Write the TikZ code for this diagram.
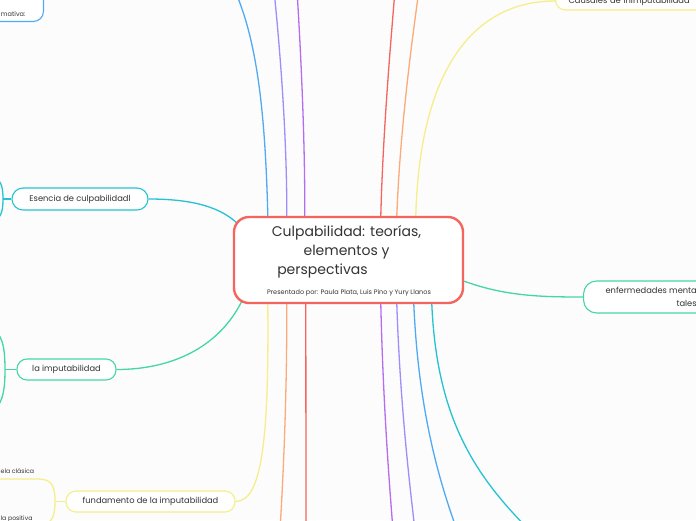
\documentclass[tikz,border=0pt]{standalone}
\usepackage{fontspec}
\setmainfont{Poppins}
\definecolor{bgc}{HTML}{FCFCFC}
\definecolor{cred}{HTML}{F4655E}
\definecolor{cblue}{HTML}{4FAAF5}
\definecolor{cpb}{HTML}{9C8EFB}
\definecolor{cpur}{HTML}{B56CEE}
\definecolor{cora}{HTML}{FDAA78}
\definecolor{cyel}{HTML}{F6EE8A}
\definecolor{cteal}{HTML}{25C3D2}
\definecolor{cgrn}{HTML}{45D6A6}
\definecolor{ctxt}{HTML}{333333}
\pgfdeclarelayer{bg}
\pgfsetlayers{bg,main}
\begin{document}
\begin{tikzpicture}[x=1pt,y=-1pt,
  every node/.style={text=ctxt, font=\fontsize{8.3}{10}\selectfont},
  box/.style={draw, rounded corners=10pt, line width=1.1pt, fill=white, inner sep=0pt},
  conn/.style={line width=1.3pt},
  small/.style={font=\fontsize{6.2}{7.5}\selectfont, inner sep=0pt, anchor=base west}]
\useasboundingbox (0,0) rectangle (696,520);
\begin{pgfonlayer}{bg}
\fill[bgc] (0,0) rectangle (696,520);
\end{pgfonlayer}
\begin{scope}
\clip (0,0) rectangle (696,520);
% central node
\node[box, draw=cred, line width=2.4pt, rounded corners=15pt, minimum width=229pt, minimum height=86pt] (c) at (348.5,260) {};
\node[font=\fontsize{14}{19}\selectfont, align=center] (ttl) at (346.5,251.5) {Culpabilidad: teorías,\\elementos y\\perspectivas\hspace*{48pt}};
\node[font=\fontsize{6.5}{8}\selectfont] (sub) at (349,293) {Presentado por: Paula Plata, Luis Pino y Yury Llanos};
% left nodes
\node[box, draw=cteal, rounded corners=11pt, minimum width=136pt, minimum height=22pt] (esen) at (80,199) {Esencia de culpabilidadl};
\node[box, draw=cgrn, minimum width=99pt, minimum height=21pt] (imp) at (66.5,369.5) {la imputabilidad};
\node[box, draw=cyel, minimum width=169pt, minimum height=21pt] (fund) at (150.5,501.5) {fundamento de la imputabilidad};
% partially visible nodes
\node[box, draw=cgrn, rounded corners=13pt, anchor=west, minimum height=32pt, inner xsep=22pt, align=left, font=\fontsize{8.3}{12.5}\selectfont] (enf) at (583,297) {enfermedades mentales\\\hspace*{71pt}tales};
\node[box, draw=cyel, anchor=base west, inner xsep=13pt, inner ysep=5pt, text height=6pt, text depth=2pt, text width=150pt, align=left] (cau) at (555,3) {Causales de inimputabilidad};
\node[box, draw=cblue, anchor=south east, text width=100pt, align=right, inner xsep=18pt, inner ysep=3pt, text height=24pt, text depth=1.5pt, font=\fontsize{6.5}{8}\selectfont] (tl) at (44,22) {mativa:};
\node[small] (cl) at (0.5,473.5) {ela clásica};
\node[small] (po) at (0.5,520.5) {la positiva};
% coordinates
\coordinate (eb) at (3,199);
\coordinate (ib) at (5,369.5);
\coordinate (fb) at (55,501.5);
\coordinate (e1) at (-10,176);
\coordinate (e2) at (-10,222);
\coordinate (i1) at (-10,326);
\coordinate (i2) at (-10,414);
\coordinate (f1) at (-5,479);
\coordinate (f2) at (-5,525);
\coordinate (t1) at (230,-20);
\coordinate (t2) at (274,-10);
\coordinate (t3) at (297,-10);
\coordinate (t4) at (395,-10);
\coordinate (t5) at (419,-10);
\coordinate (b2) at (280,530);
\coordinate (b3) at (306,530);
\coordinate (b4) at (393,530);
\coordinate (b5) at (415,530);
\coordinate (b6) at (457,530);
\coordinate (b7) at (545,545);
\end{scope}
\begin{pgfonlayer}{bg}
\clip (0,0) rectangle (696,520);
% top connectors
\draw[conn, cblue] ([xshift=35pt]c.north west) .. controls (265,100) and (255,30) .. (t1);
\draw[conn, cpb] ([xshift=54pt]c.north west) .. controls (287,130) and (279,40) .. (t2);
\draw[conn, cpur] ([xshift=72pt]c.north west) .. controls (305,130) and (300,40) .. (t3);
\draw[conn, cred] ([xshift=148pt]c.north west) .. controls (383,130) and (391,40) .. (t4);
\draw[conn, cora] ([xshift=164pt]c.north west) .. controls (400,130) and (412,40) .. (t5);
\draw[conn, cyel] ([xshift=183pt]c.north west) .. controls (420,60) and (480,1) .. (cau.west);
% bottom connectors
\draw[conn, cyel] ([xshift=35pt]c.south west) .. controls (269,440) and (262,501.5) .. (fund.east);
\draw[conn, cora] ([xshift=54pt]c.south west) .. controls (287,400) and (283,480) .. (b2);
\draw[conn, cred] ([xshift=73pt]c.south west) -- (b3);
\draw[conn, cpur] ([xshift=148pt]c.south west) .. controls (383,400) and (389,480) .. (b4);
\draw[conn, cpb] ([xshift=164pt]c.south west) .. controls (400,400) and (409,480) .. (b5);
\draw[conn, cblue] ([xshift=181pt]c.south west) .. controls (418,400) and (435,470) .. (b6);
\draw[conn, cteal] ([xshift=199pt]c.south west) .. controls (437,420) and (475,480) .. (b7);
% side connectors
\draw[conn, cteal] (esen.east) .. controls (195,199) and (222,208) .. ([xshift=6pt,yshift=-9pt]c.north west);
\draw[conn, cgrn] (imp.east) .. controls (175,369.5) and (220,345) .. ([xshift=9pt,yshift=3pt]c.south west);
\draw[conn, cgrn] ([yshift=23pt]c.south east) .. controls (505,296) and (540,297) .. (enf.west);
% brackets
\draw[conn, cteal] (esen.west) -- (eb);
\draw[conn, cteal] (eb) .. controls (3,186) and (1,178) .. (e1);
\draw[conn, cteal] (eb) .. controls (3,212) and (1,220) .. (e2);
\draw[conn, cgrn] (imp.west) -- (ib);
\draw[conn, cgrn] (ib) .. controls (5,345) and (2,334) .. (i1);
\draw[conn, cgrn] (ib) .. controls (5,394) and (2,405) .. (i2);
\draw[conn, cyel] (fund.west) -- (fb);
\draw[conn, cyel] (fb) .. controls (55,486) and (52,479) .. (38,479) -- (f1);
\draw[conn, cyel] (fb) .. controls (55,517) and (52,525) .. (38,525) -- (f2);
\end{pgfonlayer}
\end{tikzpicture}
\end{document}
